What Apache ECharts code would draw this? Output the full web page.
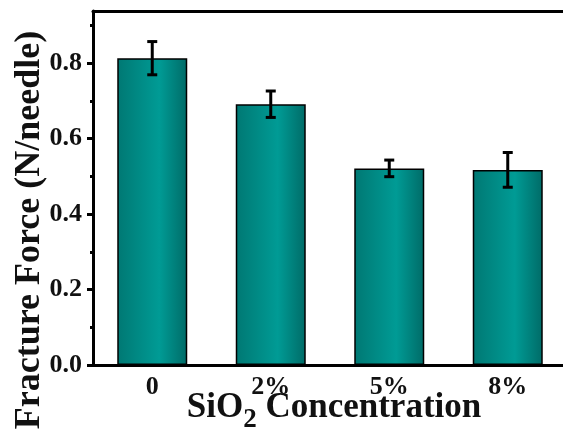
<!DOCTYPE html>
<html>
<head>
<meta charset="utf-8">
<script src="https://cdn.jsdelivr.net/npm/echarts@6/dist/echarts.min.js"></script>
<style>html,body{margin:0;padding:0;background:#fff}#c{width:563px;height:441px}</style>
</head>
<body>
<div id="c"></div>
<script>
const categories = ['0', '2%', '5%', '8%'];
const forceValues = [0.813, 0.691, 0.521, 0.517];
const forceErrors = [0.044, 0.035, 0.022, 0.046];
const majorTicks = [0, 0.2, 0.4, 0.6, 0.8];
const minorTicks = [0.1, 0.3, 0.5, 0.7, 0.9];

const FONT = '"Liberation Serif", "Times New Roman", serif';
const chart = echarts.init(document.getElementById('c'));

const errData = forceValues.map((v, i) => [i, v - forceErrors[i], v + forceErrors[i]]);

chart.setOption({
  animation: false,
  grid: { left: 93, top: 11, width: 474, height: 354, show: false, outerBoundsMode: 'none', containLabel: false },
  xAxis: [{
    type: 'category',
    data: categories,
    axisLine: { lineStyle: { color: '#000', width: 3 } },
    axisTick: { alignWithLabel: true, length: 6, lineStyle: { color: '#000', width: 3 } },
    axisLabel: { color: '#111', fontFamily: FONT, fontWeight: 'bold', fontSize: 26, margin: 9 }
  }, {
    type: 'category', position: 'top',
    data: categories,
    axisLine: { onZero: false, lineStyle: { color: '#000', width: 3 } },
    axisTick: { show: false },
    axisLabel: { show: false }
  }],
  yAxis: [{
    type: 'value', min: 0, max: 0.938,
    splitLine: { show: false },
    axisLine: { show: true, lineStyle: { color: '#000', width: 3 } },
    axisTick: { show: true, length: 6, customValues: majorTicks, lineStyle: { color: '#000', width: 3 } },
    axisLabel: { customValues: majorTicks, color: '#111', fontFamily: FONT, fontWeight: 'bold', fontSize: 26, margin: 11, formatter: v => v.toFixed(1) }
  }, {
    type: 'value', min: 0, max: 0.938, position: 'left',
    splitLine: { show: false },
    axisLine: { show: false },
    axisTick: { show: true, length: 3, customValues: minorTicks, lineStyle: { color: '#000', width: 3 } },
    axisLabel: { show: false }
  }],
  series: [{
    type: 'bar',
    data: forceValues,
    barWidth: 70,
    itemStyle: {
      color: new echarts.graphic.LinearGradient(0, 0, 1, 0, [
        { offset: 0, color: '#007873' },
        { offset: 0.6, color: '#009b95' },
        { offset: 1, color: '#006b67' }
      ]),
      borderColor: '#000', borderWidth: 1.5
    }
  }, {
    type: 'custom',
    data: errData,
    z: 10,
    renderItem: function (params, api) {
      const x = api.value(0);
      const lo = api.coord([x, api.value(1)]);
      const hi = api.coord([x, api.value(2)]);
      const hw = 5;
      const st = { stroke: '#000', lineWidth: 3 };
      return { type: 'group', children: [
        { type: 'line', shape: { x1: lo[0], y1: lo[1], x2: hi[0], y2: hi[1] }, style: st },
        { type: 'line', shape: { x1: lo[0] - hw, y1: lo[1], x2: lo[0] + hw, y2: lo[1] }, style: st },
        { type: 'line', shape: { x1: hi[0] - hw, y1: hi[1], x2: hi[0] + hw, y2: hi[1] }, style: st }
      ]};
    }
  }],
  graphic: [{
    type: 'text', x: 30, y: 230, rotation: Math.PI / 2,
    style: { text: 'Fracture Force (N/needle)', fill: '#111', font: 'bold 36px ' + FONT, align: 'center', verticalAlign: 'middle' }
  }, {
    type: 'text', x: 334, y: 412,
    style: {
      text: '{a|SiO}{b|2}{a| Concentration}',
      align: 'center', verticalAlign: 'middle',
      rich: {
        a: { fontFamily: FONT, fontWeight: 'bold', fontSize: 35, fill: '#111', lineHeight: 36, verticalAlign: 'top' },
        b: { fontFamily: FONT, fontWeight: 'bold', fontSize: 27, fill: '#111', lineHeight: 44, verticalAlign: 'bottom' }
      }
    }
  }]
});
</script>
</body>
</html>
